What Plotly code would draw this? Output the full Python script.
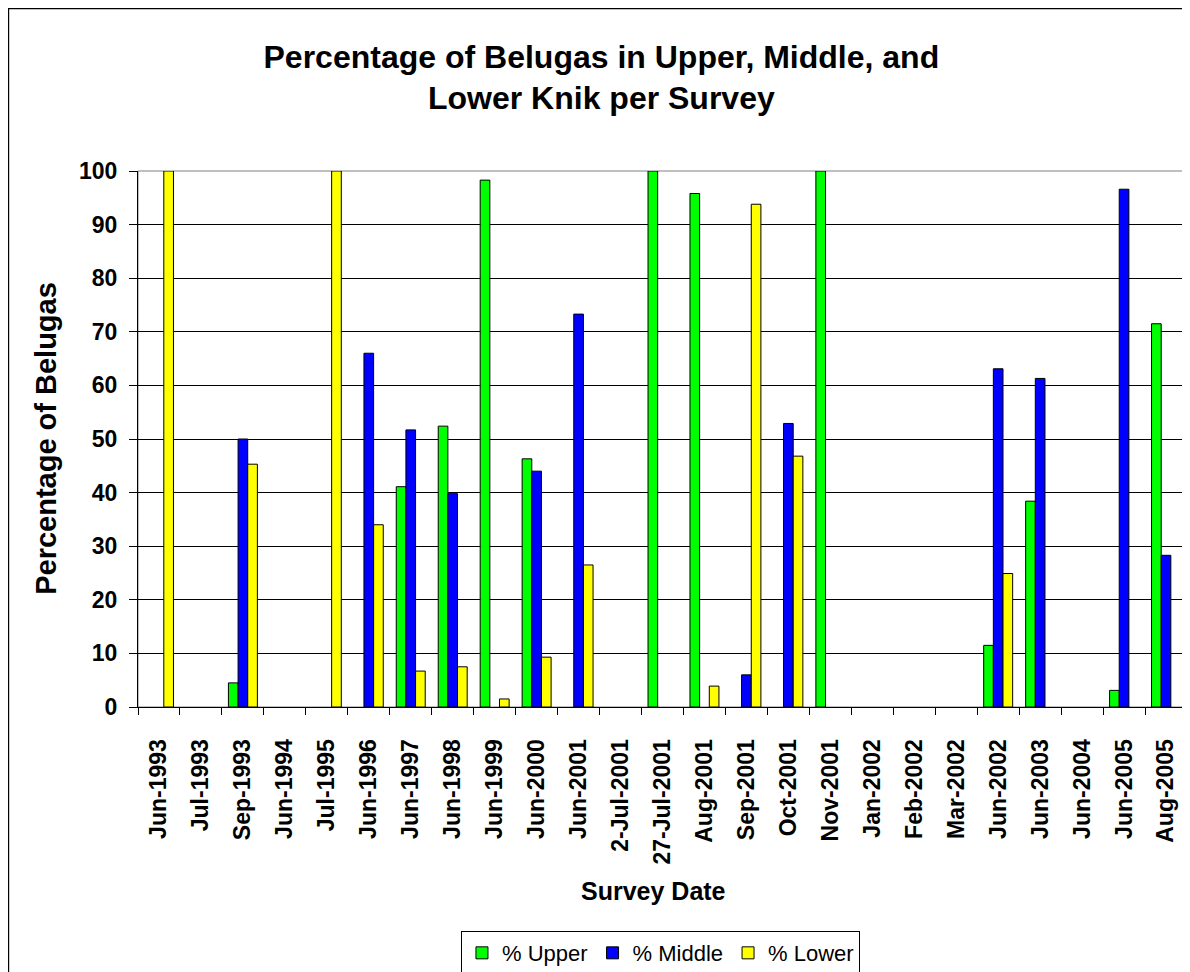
import plotly.graph_objects as go

# survey dates (category axis)
dates = [
    "Jun-1993", "Jul-1993", "Sep-1993", "Jun-1994", "Jul-1995", "Jun-1996",
    "Jun-1997", "Jun-1998", "Jun-1999", "Jun-2000", "Jun-2001", "2-Jul-2001",
    "27-Jul-2001", "Aug-2001", "Sep-2001", "Oct-2001", "Nov-2001", "Jan-2002",
    "Feb-2002", "Mar-2002", "Jun-2002", "Jun-2003", "Jun-2004", "Jun-2005",
    "Aug-2005",
]

# percentage of belugas per section (None = no bar)
pct_upper = [None, None, 4.5, None, None, None, 41.1, 52.4, 98.3, 46.3, None, None,
             100, 95.8, None, None, 100, None, None, None, 11.5, 38.4, None, 3.1, 71.5]
pct_middle = [None, None, 50, None, None, 66, 51.7, 39.8, None, 44, 73.3, None,
              None, None, 6, 52.9, None, None, None, None, 63.1, 61.3, None, 96.6, 28.3]
pct_lower = [100, None, 45.3, None, 100, 34, 6.7, 7.5, 1.5, 9.3, 26.5, None,
             None, 3.9, 93.8, 46.8, None, None, None, None, 24.9, None, None, None, None]

series = [
    ("% Upper", pct_upper, "#00FF00"),
    ("% Middle", pct_middle, "#0000FF"),
    ("% Lower", pct_lower, "#FFFF00"),
]

FONT = "Liberation Sans, Arial, sans-serif"

fig = go.Figure()
for name, vals, color in series:
    fig.add_trace(go.Bar(
        x=dates, y=vals, name=name,
        marker=dict(color=color, line=dict(color="#000000", width=1)),
    ))

# outer chart border (Excel chart area)
fig.add_shape(
    type="rect", xref="paper", yref="paper",
    x0=-0.1235, x1=1.002, y0=-0.6, y1=1.303,
    line=dict(color="#000000", width=1.5), layer="below",
)
# gray plot-area frame
fig.add_shape(
    type="rect", xref="paper", yref="paper", x0=0, x1=1, y0=0, y1=1,
    line=dict(color="#808080", width=1), layer="below",
)

# axis titles placed as annotations
fig.add_annotation(
    text="<b>Survey Date</b>", xref="paper", yref="paper",
    x=0.491, y=-0.343, showarrow=False, xanchor="center", yanchor="middle",
    font=dict(size=25, family=FONT, color="#000000"),
)
fig.add_annotation(
    text="<b>Percentage of Belugas</b>", xref="paper", yref="paper",
    x=-0.0878, y=0.502, showarrow=False, textangle=-90,
    xanchor="center", yanchor="middle",
    font=dict(size=29, family=FONT, color="#000000"),
)

fig.update_layout(
    width=1182, height=964,
    margin=dict(l=130, r=3, t=163, b=265),
    paper_bgcolor="#FFFFFF",
    plot_bgcolor="#FFFFFF",
    barmode="group",
    bargap=0.31,
    bargroupgap=0,
    font=dict(family=FONT, color="#000000"),
    title=dict(
        text="<b>Percentage of Belugas in Upper, Middle, and<br>Lower Knik per Survey</b>",
        x=0.502, xanchor="center", y=0.938, yanchor="middle",
        font=dict(size=32),
    ),
    xaxis=dict(
        type="category",
        tickangle=-90,
        tickfont=dict(size=23, family=FONT),
        tickprefix="<b>", ticksuffix="</b>",
        ticks="outside", tickson="boundaries", ticklen=7, tickcolor="#000000",
        ticklabelstandoff=22,
        showline=True, linecolor="#000000", linewidth=1,
        showgrid=False,
    ),
    yaxis=dict(
        range=[0, 100], dtick=10,
        tickfont=dict(size=23, family=FONT),
        tickprefix="<b>", ticksuffix="</b>",
        ticks="outside", ticklen=8, tickcolor="#000000",
        ticklabelstandoff=7,
        showline=True, linecolor="#000000", linewidth=1,
        showgrid=True, gridcolor="#000000", gridwidth=1,
        zeroline=False,
    ),
    legend=dict(
        orientation="h", xref="container", yref="container",
        x=0.552, xanchor="center", y=0.0425, yanchor="top",
        bordercolor="#000000", borderwidth=1,
        font=dict(size=22, family=FONT),
        itemwidth=30,
    ),
)

fig.write_html("out.html")
